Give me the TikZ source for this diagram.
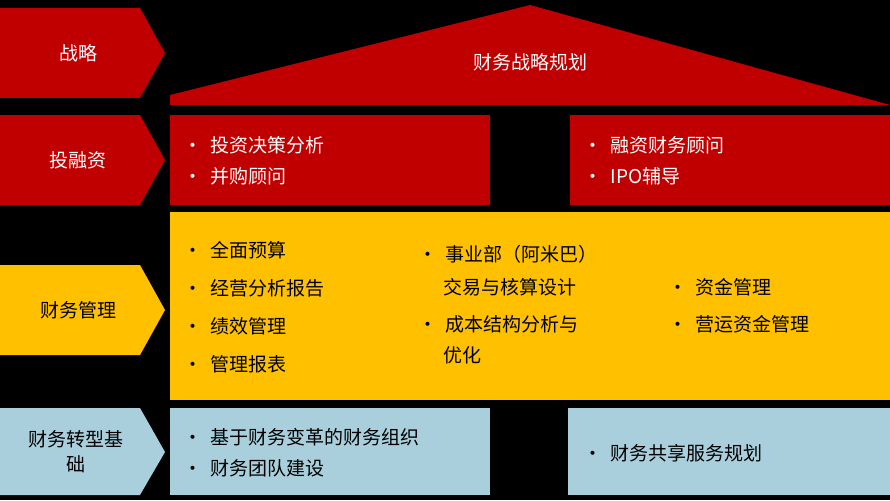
\documentclass[tikz,border=0pt]{standalone}
\usepackage{fontspec}
\setmainfont{Noto Sans CJK SC}
\begin{document}
\begin{tikzpicture}[x=1pt,y=-1pt,
  lab/.style={font=\fontsize{19}{22}\selectfont,anchor=west,inner sep=0pt},
  ctr/.style={font=\fontsize{19}{22}\selectfont,inner sep=0pt}]
\definecolor{rd}{HTML}{C00000}\definecolor{gd}{HTML}{FFC000}\definecolor{lb}{HTML}{A9CFDC}
\fill[black] (0,0) rectangle (890,500);
\useasboundingbox (0,0) rectangle (890,500);
% left arrows
\fill[rd] (0,8)--(140,8)--(165,53)--(140,98)--(0,98)--cycle;
\fill[rd] (0,115)--(140,115)--(165,160)--(140,205)--(0,205)--cycle;
\fill[gd] (0,265)--(140,265)--(165,310)--(140,355)--(0,355)--cycle;
\fill[lb] (0,408)--(140,408)--(165,452)--(140,495)--(0,495)--cycle;
\node[ctr,text=white] (a1) at (78,53) {战略};
\node[ctr,text=white] (a2) at (78,160) {投融资};
\node[ctr] (a3) at (78,310) {财务管理};
\node[font=\fontsize{19}{25}\selectfont,align=center,text width=125pt,inner sep=0pt] (a4) at (76,452) {财务转型基\\础};
% roof
\fill[rd] (170,105)--(170,95)--(530,5)--(890,105)--cycle;
\node[ctr,text=white] (roof) at (530,62) {财务战略规划};
% red boxes
\fill[rd] (170,115) rectangle (490,205);
\fill[rd] (570,115) rectangle (890,205);
\node[lab,text=white] (r1) at (183,145) {•\ \ 投资决策分析};
\node[lab,text=white] (r2) at (183,176) {•\ \ 并购顾问};
\node[lab,text=white] (r3) at (583,145) {•\ \ 融资财务顾问};
\node[lab,text=white] (r4) at (583,176) {•\ \ IPO辅导};
% gold box
\fill[gd] (170,212) rectangle (890,400);
\node[lab] (g1) at (183,250) {•\ \ 全面预算};
\node[lab] (g2) at (183,288) {•\ \ 经营分析报告};
\node[lab] (g3) at (183,326) {•\ \ 绩效管理};
\node[lab] (g4) at (183,364) {•\ \ 管理报表};
\node[lab] (g5) at (418,254) {•\ \ 事业部（阿米巴）};
\node[lab] (g6) at (443,287) {交易与核算设计};
\node[lab] (g7) at (418,324) {•\ \ 成本结构分析与};
\node[lab] (g8) at (443,355) {优化};
\node[lab] (g9) at (668,287) {•\ \ 资金管理};
\node[lab] (g10) at (668,324) {•\ \ 营运资金管理};
% blue boxes
\fill[lb] (170,408) rectangle (490,495);
\fill[lb] (568,408) rectangle (890,495);
\node[lab] (b1) at (183,437) {•\ \ 基于财务变革的财务组织};
\node[lab] (b2) at (183,468) {•\ \ 财务团队建设};
\node[lab] (b3) at (583,453) {•\ \ 财务共享服务规划};
\end{tikzpicture}
\end{document}
